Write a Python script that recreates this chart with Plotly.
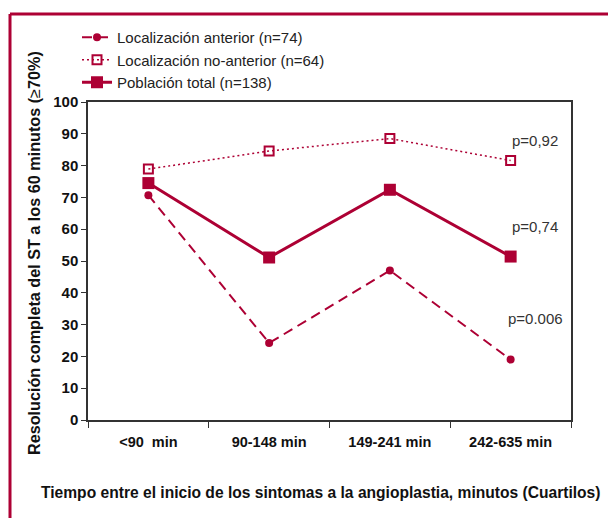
import plotly.graph_objects as go

categories = ["<90  min", "90-148 min", "149-241 min", "242-635 min"]
anterior = [70.7, 24.2, 47.0, 19.0]
no_anterior = [78.9, 84.6, 88.5, 81.6]
total = [74.5, 51.1, 72.4, 51.4]
names = ["Localización anterior (n=74)", "Localización no-anterior (n=64)", "Población total (n=138)"]
pvals = ["p=0,92", "p=0,74", "p=0.006"]
p_y = [88.0, 61.0, 31.8]

C = "#ad0034"
FONT = "Liberation Sans, Arial, sans-serif"

# page body margin offset (8px); coordinates below are reference-pixel based
OFF = 8
W, H = 616, 518
PL, PR, PT, PB = 88, 571, 102, 420  # plot area in reference pixels
L = PL - OFF
T = PT - OFF
pw, ph = PR - PL, PB - PT
R = W - L - pw
B = H - T - ph

def px(x):
    return (x - PL) / pw

def py(y):
    return (PB - y) / ph

fig = go.Figure()
fig.add_trace(go.Scatter(x=categories, y=anterior, name=names[0], mode="lines+markers",
                         line=dict(color=C, width=2, dash="10px,6px"),
                         marker=dict(symbol="circle", size=8, color=C)))
fig.add_trace(go.Scatter(x=categories, y=no_anterior, name=names[1], mode="lines+markers",
                         line=dict(color=C, width=1.5, dash="2px,3px"),
                         marker=dict(symbol="square-open", size=9, color=C, line=dict(width=2, color=C))))
fig.add_trace(go.Scatter(x=categories, y=total, name=names[2], mode="lines+markers",
                         line=dict(color=C, width=3),
                         marker=dict(symbol="square", size=12, color=C)))

for t, yv in zip(pvals, p_y):
    fig.add_annotation(text=t, xref="paper", x=px(535), xanchor="center", yref="y", y=yv,
                       yanchor="middle", showarrow=False,
                       font=dict(family=FONT, size=15, color="#333"))

# axis titles as annotations (positioned like the reference)
fig.add_annotation(text="<b>Tiempo entre el inicio de los sintomas a la angioplastia, minutos (Cuartilos)</b>",
                   xref="paper", x=px(320), xanchor="center", yref="paper", y=py(492), yanchor="middle",
                   showarrow=False, font=dict(family=FONT, size=15.6, color="#111"))
fig.add_annotation(text="<b>Resolución completa del ST a los 60 minutos (</b>≥<b>70%)</b>",
                   xref="paper", x=px(34), xanchor="center", yref="paper", y=py(253), yanchor="middle",
                   textangle=-90, showarrow=False, font=dict(family=FONT, size=16.2, color="#111"))

fig.add_shape(type="line", xref="paper", yref="paper", x0=px(10), x1=px(10), y0=py(14), y1=py(530),
              line=dict(color=C, width=3))
fig.add_shape(type="line", xref="paper", yref="paper", x0=px(10), x1=px(630), y0=py(14), y1=py(14),
              line=dict(color=C, width=3))

fig.update_layout(
    width=W, height=H,
    margin=dict(l=L, r=R, t=T, b=B),
    paper_bgcolor="white", plot_bgcolor="white",
    font=dict(family=FONT, color="#111"),
    showlegend=True,
    legend=dict(x=px(77), y=py(21), xanchor="left", yanchor="top",
                font=dict(family=FONT, size=15, color="#222"),
                bgcolor="rgba(0,0,0,0)", tracegroupgap=0, itemwidth=30),
    xaxis=dict(type="category", showline=True, linecolor="#333", linewidth=1.5, mirror=True,
               ticks="outside", tickson="boundaries", ticklen=6, tickcolor="#333",
               ticklabelstandoff=8,
               tickfont=dict(family=FONT, size=14.5, color="#111", weight="bold"),
               showgrid=False, range=[-0.5, 3.5]),
    yaxis=dict(range=[0, 100], dtick=10, showline=True, linecolor="#333", linewidth=1.5, mirror=True,
               ticks="outside", ticklen=5, tickcolor="#333", showgrid=False, zeroline=False,
               tickfont=dict(family=FONT, size=15, color="#111", weight="bold")),
)

fig.write_html("out.html")
